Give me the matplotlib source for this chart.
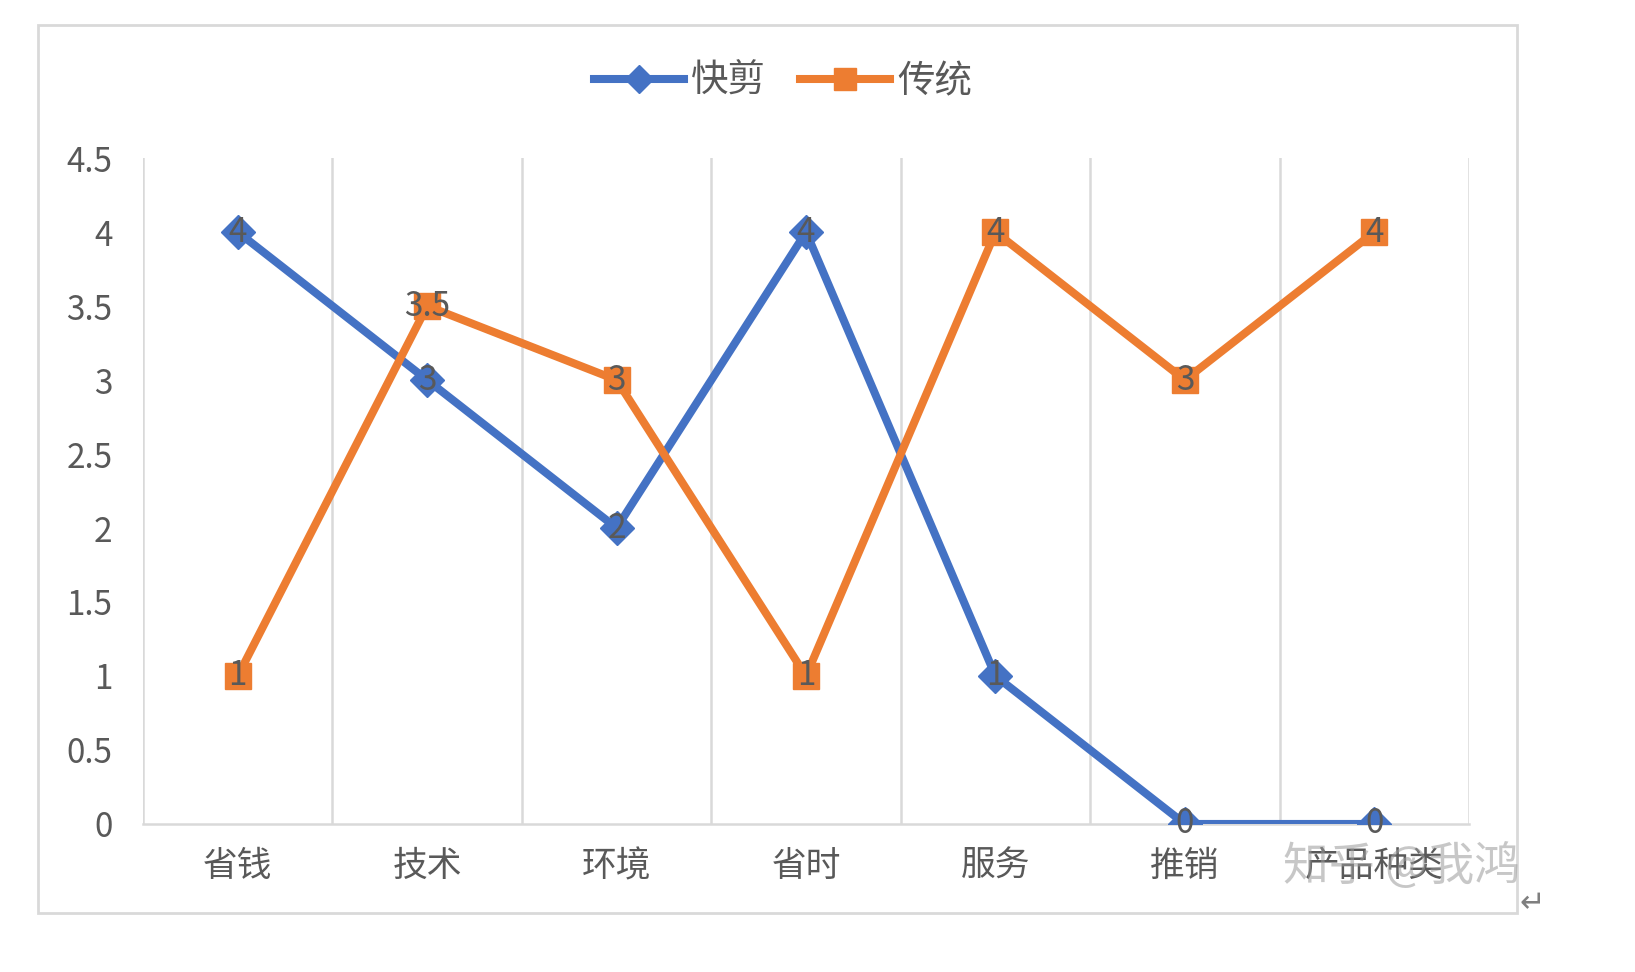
import matplotlib
matplotlib.use("Agg")
import matplotlib.pyplot as plt
import numpy as np
from matplotlib.patches import Rectangle

plt.rcParams['font.family'] = ['Noto Sans CJK SC', 'DejaVu Sans']

categories = ['省钱', '技术', '环境', '省时', '服务', '推销', '产品种类']
kuaijian = [4, 3, 2, 4, 1, 0, 0]
chuantong = [1, 3.5, 3, 1, 4, 3, 4]
yticks = [0, 0.5, 1, 1.5, 2, 2.5, 3, 3.5, 4, 4.5]
ytick_labels = ['0', '0.5', '1', '1.5', '2', '2.5', '3', '3.5', '4', '4.5']

blue = '#4472C4'
orange = '#ED7D31'
grey_txt = '#595959'
grid_c = '#D9D9D9'

fig = plt.figure(figsize=(16.35, 9.72), dpi=100)
ax = fig.add_axes([0.0875, 0.1523, 0.8110, 0.6851])

x = np.arange(len(categories))
ax.plot(x, kuaijian, color=blue, lw=5.8, marker='D', ms=17, label='快剪', zorder=3)
ax.plot(x, chuantong, color=orange, lw=5.8, marker='s', ms=19, label='传统', zorder=4)

# data labels sit right on the markers
for xi, v in zip(x, kuaijian):
    ax.text(xi, v, f'{v:g}', ha='center', va='center', fontsize=24, color=grey_txt, zorder=5)
for xi, v in zip(x, chuantong):
    ax.text(xi, v, f'{v:g}', ha='center', va='center', fontsize=24, color=grey_txt, zorder=5)

ax.set_xlim(-0.5, len(categories) - 0.5)
ax.set_ylim(0, 4.5)
ax.set_yticks(yticks)
ax.set_yticklabels(ytick_labels)
ax.set_xticks(x)
ax.set_xticklabels(categories)

# vertical gridlines between categories
for b in np.arange(-0.5, len(categories) + 0.5, 1):
    ax.axvline(b, color=grid_c, lw=1.8, zorder=1)

for s in ['top', 'right', 'left']:
    ax.spines[s].set_visible(False)
ax.spines['bottom'].set_color(grid_c)
ax.spines['bottom'].set_linewidth(1.8)
ax.tick_params(axis='y', length=0, pad=22, labelsize=24, labelcolor=grey_txt)
ax.tick_params(axis='x', length=0, pad=18, labelsize=25, labelcolor=grey_txt)

leg = fig.legend(loc='center', bbox_to_anchor=(0.479, 0.916), ncol=2, frameon=False,
                 fontsize=27, handlelength=2.4, columnspacing=0.9, handletextpad=0.2,
                 labelcolor=grey_txt, markerscale=0.85)

# outer chart border
fig.patches.append(Rectangle((0.0232, 0.0607), 0.9046, 0.9136, transform=fig.transFigure,
                             fill=False, edgecolor=grid_c, lw=2))

# watermark and paragraph mark
fig.text(0.785, 0.108, '知乎 @我鸿', fontsize=33, color='#9a9a9a', alpha=0.55,
         ha='left', va='center')
fig.text(0.937, 0.070, '↵', fontsize=22, color='#7f7f7f', ha='center', va='center',
         family=['DejaVu Sans', 'Noto Sans CJK SC'], fontweight='normal')

fig.savefig('out.png', dpi=100, facecolor='white')
